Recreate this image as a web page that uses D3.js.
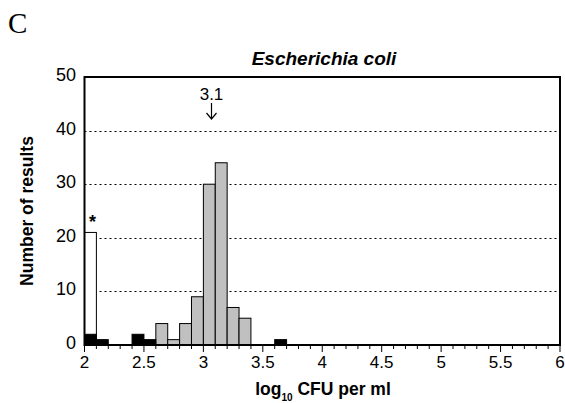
<!DOCTYPE html>
<html lang='en'>
	<head>
		<meta charset='utf-8'>
		<title>Escherichia coli</title>
		<script type='text/javascript' src='https://cdn.jsdelivr.net/npm/d3@7'></script>
		<style>
			body { margin: 0; background: white; }
			svg text { font-family: Arial, 'Liberation Sans', sans-serif; fill: black; }
			g.grid line { stroke: black; stroke-width: 1px; stroke-dasharray: 2,3; }
			g.bars rect { stroke: black; stroke-width: 1px; }
		</style>
	</head>
	<body>
		<script type='text/javascript'>
			var width = 565;
			var height = 403;

			// bin start (log10 CFU/ml), bin width 0.1
			var grayBins = [2.6, 2.7, 2.8, 2.9, 3.0, 3.1, 3.2, 3.3];
			var grayCounts = [4, 1, 4, 9, 30, 34, 7, 5];
			var blackBins = [2.0, 2.1, 2.4, 2.5, 3.6];
			var blackCounts = [2, 1, 2, 1, 1];
			var whiteBins = [2.0];
			var whiteCounts = [21];
			var binWidth = 0.1;
			var yTicks = [0, 10, 20, 30, 40, 50];
			var xTicks = [2, 2.5, 3, 3.5, 4, 4.5, 5, 5.5, 6];
			var median = 3.06;
			var medianLabel = '3.1';

			var x = d3.scaleLinear().domain([2, 6]).range([84.5, 560]);
			var y = d3.scaleLinear().domain([0, 50]).range([345, 77]);

			var svg = d3.select('body').append('svg')
				.attr('width', width)
				.attr('height', height);

			svg.append('text')
				.attr('x', 8).attr('y', 33)
				.style('font-family', "'Liberation Serif', 'Times New Roman', serif")
				.style('font-size', '29px')
				.text('C');

			// dotted gridlines
			svg.append('g').attr('class', 'grid')
				.selectAll('line')
				.data([10, 20, 30, 40])
				.enter().append('line')
					.attr('x1', x(2)).attr('x2', x(6))
					.attr('y1', function(d) { return Math.round(y(d)) + 0.5; })
					.attr('y2', function(d) { return Math.round(y(d)) + 0.5; });

			function drawBars(bins, counts, fill) {
				svg.append('g').attr('class', 'bars')
					.selectAll('rect')
					.data(bins.map(function(b, i) { return [b, counts[i]]; }))
					.enter().append('rect')
						.attr('x', function(d) { return x(d[0]); })
						.attr('width', function(d) { return x(d[0] + binWidth) - x(d[0]); })
						.attr('y', function(d) { return y(d[1]); })
						.attr('height', function(d) { return y(0) - y(d[1]); })
						.style('fill', fill);
			}
			drawBars(whiteBins, whiteCounts, 'white');
			drawBars(grayBins, grayCounts, '#c0c0c0');
			drawBars(blackBins, blackCounts, 'black');

			// asterisk over white bar
			svg.append('text')
				.attr('x', x(whiteBins[0] + binWidth / 2) + 2).attr('y', y(whiteCounts[0]) - 4)
				.attr('text-anchor', 'middle')
				.style('font-size', '18px').style('font-weight', 'bold')
				.text('*');

			// frame
			svg.append('rect')
				.attr('x', x(2)).attr('y', y(50))
				.attr('width', x(6) - x(2)).attr('height', y(0) - y(50))
				.style('fill', 'none').style('stroke', 'black').style('stroke-width', 2);

			// x axis
			var xAxis = svg.append('g')
				.attr('transform', 'translate(0,' + y(0) + ')');
			xAxis.selectAll('line.minor')
				.data(d3.range(20, 61).map(function(d) { return d / 10; }))
				.enter().append('line')
					.attr('x1', function(d) { return x(d); })
					.attr('x2', function(d) { return x(d); })
					.attr('y1', 0)
					.attr('y2', function(d) { return Math.abs(d * 2 - Math.round(d * 2)) < 1e-6 ? 7 : 4; })
					.style('stroke', 'black').style('stroke-width', 1);
			xAxis.selectAll('text')
				.data(xTicks)
				.enter().append('text')
					.attr('x', function(d) { return x(d); })
					.attr('y', 23)
					.attr('text-anchor', 'middle')
					.style('font-size', '17px')
					.text(function(d) { return d; });

			// y labels
			svg.append('g').selectAll('text')
				.data(yTicks)
				.enter().append('text')
					.attr('x', 76)
					.attr('y', function(d) { return y(d) + 4; })
					.attr('text-anchor', 'end')
					.style('font-size', '18px')
					.text(function(d) { return d; });

			// title
			svg.append('text')
				.attr('x', 324).attr('y', 65)
				.attr('text-anchor', 'middle')
				.style('font-size', '19px').style('font-weight', 'bold').style('font-style', 'italic')
				.text('Escherichia coli');

			// median marker
			var mx = Math.round(x(median)) + 0.5;
			svg.append('text')
				.attr('x', mx).attr('y', 100)
				.attr('text-anchor', 'middle')
				.style('font-size', '17px')
				.text(medianLabel);
			svg.append('path')
				.attr('d', 'M' + mx + ',103V119M' + (mx - 5) + ',113L' + mx + ',119L' + (mx + 5) + ',113')
				.style('fill', 'none').style('stroke', 'black').style('stroke-width', 1.2);

			// axis titles
			var xl = svg.append('text')
				.attr('x', 323).attr('y', 395)
				.attr('text-anchor', 'middle')
				.style('font-size', '17.5px').style('font-weight', 'bold');
			xl.append('tspan').text('log');
			xl.append('tspan').attr('dy', 6).style('font-size', '10px').text('10');
			xl.append('tspan').attr('dy', -6).text(' CFU per ml');

			svg.append('text')
				.attr('transform', 'translate(33,' + ((y(0) + y(50)) / 2) + ') rotate(-90)')
				.attr('text-anchor', 'middle')
				.style('font-size', '17.5px').style('font-weight', 'bold')
				.text('Number of results');
		</script>
	</body>
</html>
